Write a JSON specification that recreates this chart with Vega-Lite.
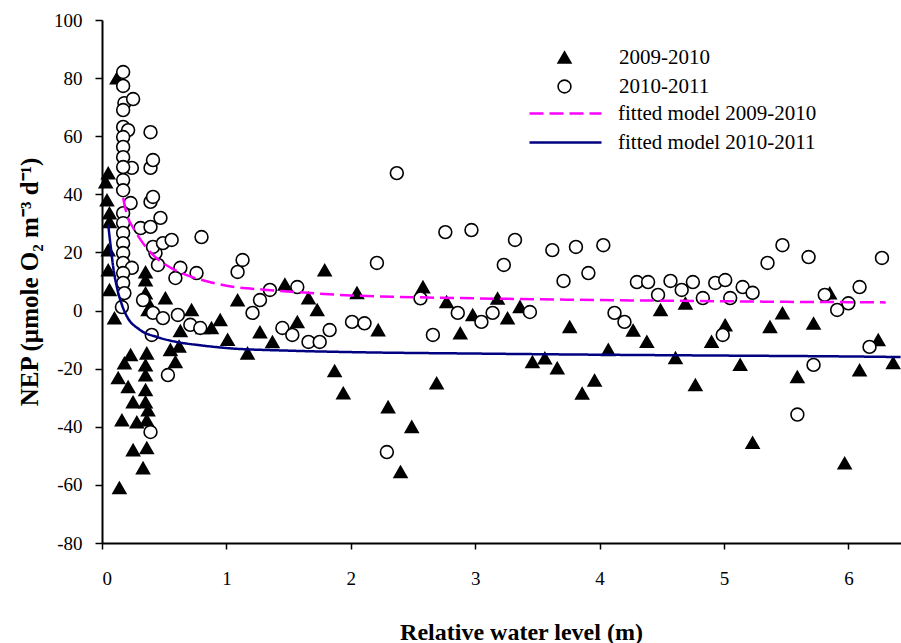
{
  "$schema": "https://vega.github.io/schema/vega-lite/v6.json",
  "autosize": "none",
  "padding": {"left": 102, "top": 20, "right": 0, "bottom": 100},
  "width": 799,
  "height": 523,
  "background": "white",
  "config": {
    "view": {"stroke": null},
    "font": "Liberation Serif",
    "style": {"guide-label": {"font": "Liberation Serif"}, "guide-title": {"font": "Liberation Serif"}},
    "axis": {"grid": false, "domainColor": "black", "domainWidth": 2, "tickColor": "black", "tickWidth": 1.5, "labelColor": "black", "labelFont": "Liberation Serif", "labelFontSize": 19, "titleFont": "Liberation Serif", "titleFontSize": 24, "titleFontWeight": "bold", "titleColor": "black"},
    "legend": {"labelFont": "Liberation Serif", "labelFontSize": 21, "labelColor": "black", "padding": 0, "labelLimit": 0}
  },
  "datasets": {
    "points": [
      {"x": 0.12, "y": 80.0, "series": "2009-2010"},
      {"x": 0.03, "y": 44.2, "series": "2009-2010"},
      {"x": 0.05, "y": 47.3, "series": "2009-2010"},
      {"x": 0.04, "y": 38.0, "series": "2009-2010"},
      {"x": 0.06, "y": 33.5, "series": "2009-2010"},
      {"x": 0.06, "y": 30.5, "series": "2009-2010"},
      {"x": 0.05, "y": 20.8, "series": "2009-2010"},
      {"x": 0.05, "y": 13.9, "series": "2009-2010"},
      {"x": 0.06, "y": 7.1, "series": "2009-2010"},
      {"x": 0.10, "y": -2.6, "series": "2009-2010"},
      {"x": 0.35, "y": 13.2, "series": "2009-2010"},
      {"x": 0.35, "y": 10.5, "series": "2009-2010"},
      {"x": 0.35, "y": 6.0, "series": "2009-2010"},
      {"x": 0.36, "y": 3.6, "series": "2009-2010"},
      {"x": 0.37, "y": 0.2, "series": "2009-2010"},
      {"x": 0.51, "y": 4.3, "series": "2009-2010"},
      {"x": 0.72, "y": 0.2, "series": "2009-2010"},
      {"x": 0.63, "y": -7.0, "series": "2009-2010"},
      {"x": 0.81, "y": -6.0, "series": "2009-2010"},
      {"x": 0.88, "y": -6.0, "series": "2009-2010"},
      {"x": 0.62, "y": -12.3, "series": "2009-2010"},
      {"x": 0.14, "y": -61.0, "series": "2009-2010"},
      {"x": 0.33, "y": -54.2, "series": "2009-2010"},
      {"x": 0.25, "y": -48.0, "series": "2009-2010"},
      {"x": 0.36, "y": -47.3, "series": "2009-2010"},
      {"x": 0.16, "y": -37.7, "series": "2009-2010"},
      {"x": 0.28, "y": -38.4, "series": "2009-2010"},
      {"x": 0.36, "y": -37.7, "series": "2009-2010"},
      {"x": 0.25, "y": -31.5, "series": "2009-2010"},
      {"x": 0.35, "y": -31.5, "series": "2009-2010"},
      {"x": 0.21, "y": -26.3, "series": "2009-2010"},
      {"x": 0.13, "y": -23.2, "series": "2009-2010"},
      {"x": 0.35, "y": -27.3, "series": "2009-2010"},
      {"x": 0.35, "y": -22.2, "series": "2009-2010"},
      {"x": 0.35, "y": -18.8, "series": "2009-2010"},
      {"x": 0.36, "y": -14.7, "series": "2009-2010"},
      {"x": 0.18, "y": -18.1, "series": "2009-2010"},
      {"x": 0.23, "y": -15.3, "series": "2009-2010"},
      {"x": 0.55, "y": -13.5, "series": "2009-2010"},
      {"x": 0.59, "y": -17.7, "series": "2009-2010"},
      {"x": 0.37, "y": -34.3, "series": "2009-2010"},
      {"x": 0.95, "y": -3.2, "series": "2009-2010"},
      {"x": 1.01, "y": -10.0, "series": "2009-2010"},
      {"x": 1.09, "y": 3.6, "series": "2009-2010"},
      {"x": 1.17, "y": -14.7, "series": "2009-2010"},
      {"x": 1.27, "y": -7.4, "series": "2009-2010"},
      {"x": 1.37, "y": -10.8, "series": "2009-2010"},
      {"x": 1.47, "y": 9.0, "series": "2009-2010"},
      {"x": 1.57, "y": -3.9, "series": "2009-2010"},
      {"x": 1.79, "y": 13.9, "series": "2009-2010"},
      {"x": 1.66, "y": 4.3, "series": "2009-2010"},
      {"x": 1.73, "y": 0.2, "series": "2009-2010"},
      {"x": 1.87, "y": -20.8, "series": "2009-2010"},
      {"x": 1.94, "y": -28.4, "series": "2009-2010"},
      {"x": 2.30, "y": -33.2, "series": "2009-2010"},
      {"x": 2.49, "y": -40.0, "series": "2009-2010"},
      {"x": 2.40, "y": -55.5, "series": "2009-2010"},
      {"x": 2.69, "y": -25.0, "series": "2009-2010"},
      {"x": 2.22, "y": -6.7, "series": "2009-2010"},
      {"x": 2.05, "y": 6.1, "series": "2009-2010"},
      {"x": 2.58, "y": 8.1, "series": "2009-2010"},
      {"x": 2.77, "y": 3.0, "series": "2009-2010"},
      {"x": 2.88, "y": -7.8, "series": "2009-2010"},
      {"x": 2.98, "y": -1.5, "series": "2009-2010"},
      {"x": 3.18, "y": 4.2, "series": "2009-2010"},
      {"x": 3.26, "y": -2.6, "series": "2009-2010"},
      {"x": 3.36, "y": 1.3, "series": "2009-2010"},
      {"x": 3.46, "y": -17.7, "series": "2009-2010"},
      {"x": 3.56, "y": -16.4, "series": "2009-2010"},
      {"x": 3.66, "y": -19.8, "series": "2009-2010"},
      {"x": 3.76, "y": -5.6, "series": "2009-2010"},
      {"x": 3.86, "y": -28.5, "series": "2009-2010"},
      {"x": 3.96, "y": -24.0, "series": "2009-2010"},
      {"x": 4.07, "y": -13.5, "series": "2009-2010"},
      {"x": 4.27, "y": -6.8, "series": "2009-2010"},
      {"x": 4.38, "y": -10.7, "series": "2009-2010"},
      {"x": 4.49, "y": 0.2, "series": "2009-2010"},
      {"x": 4.69, "y": 2.5, "series": "2009-2010"},
      {"x": 4.61, "y": -16.3, "series": "2009-2010"},
      {"x": 4.77, "y": -25.6, "series": "2009-2010"},
      {"x": 4.90, "y": -10.7, "series": "2009-2010"},
      {"x": 5.01, "y": -5.0, "series": "2009-2010"},
      {"x": 5.13, "y": -18.6, "series": "2009-2010"},
      {"x": 5.23, "y": -45.5, "series": "2009-2010"},
      {"x": 5.37, "y": -5.6, "series": "2009-2010"},
      {"x": 5.47, "y": -0.9, "series": "2009-2010"},
      {"x": 5.59, "y": -22.8, "series": "2009-2010"},
      {"x": 5.72, "y": -4.4, "series": "2009-2010"},
      {"x": 5.85, "y": 6.0, "series": "2009-2010"},
      {"x": 5.97, "y": -52.5, "series": "2009-2010"},
      {"x": 6.09, "y": -20.5, "series": "2009-2010"},
      {"x": 6.24, "y": -10.1, "series": "2009-2010"},
      {"x": 6.36, "y": -18.0, "series": "2009-2010"},
      {"x": 0.17, "y": 82.1, "series": "2010-2011"},
      {"x": 0.17, "y": 77.3, "series": "2010-2011"},
      {"x": 0.18, "y": 71.4, "series": "2010-2011"},
      {"x": 0.17, "y": 69.0, "series": "2010-2011"},
      {"x": 0.25, "y": 72.8, "series": "2010-2011"},
      {"x": 0.17, "y": 63.2, "series": "2010-2011"},
      {"x": 0.21, "y": 62.1, "series": "2010-2011"},
      {"x": 0.17, "y": 59.7, "series": "2010-2011"},
      {"x": 0.17, "y": 56.3, "series": "2010-2011"},
      {"x": 0.17, "y": 52.8, "series": "2010-2011"},
      {"x": 0.24, "y": 49.1, "series": "2010-2011"},
      {"x": 0.17, "y": 49.4, "series": "2010-2011"},
      {"x": 0.17, "y": 44.9, "series": "2010-2011"},
      {"x": 0.17, "y": 41.4, "series": "2010-2011"},
      {"x": 0.23, "y": 37.0, "series": "2010-2011"},
      {"x": 0.17, "y": 33.5, "series": "2010-2011"},
      {"x": 0.17, "y": 30.1, "series": "2010-2011"},
      {"x": 0.17, "y": 26.7, "series": "2010-2011"},
      {"x": 0.31, "y": 28.4, "series": "2010-2011"},
      {"x": 0.39, "y": 28.8, "series": "2010-2011"},
      {"x": 0.47, "y": 31.9, "series": "2010-2011"},
      {"x": 0.39, "y": 37.4, "series": "2010-2011"},
      {"x": 0.41, "y": 39.1, "series": "2010-2011"},
      {"x": 0.39, "y": 49.1, "series": "2010-2011"},
      {"x": 0.41, "y": 51.8, "series": "2010-2011"},
      {"x": 0.39, "y": 61.4, "series": "2010-2011"},
      {"x": 0.17, "y": 23.2, "series": "2010-2011"},
      {"x": 0.17, "y": 19.8, "series": "2010-2011"},
      {"x": 0.17, "y": 16.4, "series": "2010-2011"},
      {"x": 0.24, "y": 14.7, "series": "2010-2011"},
      {"x": 0.17, "y": 12.9, "series": "2010-2011"},
      {"x": 0.17, "y": 9.5, "series": "2010-2011"},
      {"x": 0.43, "y": 19.8, "series": "2010-2011"},
      {"x": 0.41, "y": 21.9, "series": "2010-2011"},
      {"x": 0.49, "y": 23.2, "series": "2010-2011"},
      {"x": 0.56, "y": 24.3, "series": "2010-2011"},
      {"x": 0.45, "y": 15.7, "series": "2010-2011"},
      {"x": 0.63, "y": 14.7, "series": "2010-2011"},
      {"x": 0.59, "y": 11.2, "series": "2010-2011"},
      {"x": 0.76, "y": 12.9, "series": "2010-2011"},
      {"x": 0.80, "y": 25.3, "series": "2010-2011"},
      {"x": 1.09, "y": 13.3, "series": "2010-2011"},
      {"x": 1.13, "y": 17.4, "series": "2010-2011"},
      {"x": 1.35, "y": 7.1, "series": "2010-2011"},
      {"x": 1.57, "y": 8.1, "series": "2010-2011"},
      {"x": 0.18, "y": 6.0, "series": "2010-2011"},
      {"x": 0.16, "y": 1.2, "series": "2010-2011"},
      {"x": 0.33, "y": 3.6, "series": "2010-2011"},
      {"x": 0.41, "y": -0.8, "series": "2010-2011"},
      {"x": 0.49, "y": -2.6, "series": "2010-2011"},
      {"x": 0.40, "y": -8.4, "series": "2010-2011"},
      {"x": 0.61, "y": -1.5, "series": "2010-2011"},
      {"x": 0.71, "y": -4.9, "series": "2010-2011"},
      {"x": 0.79, "y": -6.0, "series": "2010-2011"},
      {"x": 0.53, "y": -22.2, "series": "2010-2011"},
      {"x": 0.39, "y": -41.8, "series": "2010-2011"},
      {"x": 1.21, "y": -0.8, "series": "2010-2011"},
      {"x": 1.45, "y": -6.0, "series": "2010-2011"},
      {"x": 1.53, "y": -8.4, "series": "2010-2011"},
      {"x": 1.27, "y": 3.6, "series": "2010-2011"},
      {"x": 1.66, "y": -10.8, "series": "2010-2011"},
      {"x": 1.75, "y": -10.8, "series": "2010-2011"},
      {"x": 1.83, "y": -6.7, "series": "2010-2011"},
      {"x": 2.01, "y": -3.9, "series": "2010-2011"},
      {"x": 2.11, "y": -4.4, "series": "2010-2011"},
      {"x": 2.56, "y": 4.2, "series": "2010-2011"},
      {"x": 2.66, "y": -8.4, "series": "2010-2011"},
      {"x": 2.86, "y": -0.8, "series": "2010-2011"},
      {"x": 3.05, "y": -3.9, "series": "2010-2011"},
      {"x": 3.14, "y": -0.8, "series": "2010-2011"},
      {"x": 3.44, "y": -0.5, "series": "2010-2011"},
      {"x": 2.29, "y": -48.7, "series": "2010-2011"},
      {"x": 3.71, "y": 10.2, "series": "2010-2011"},
      {"x": 2.37, "y": 47.3, "series": "2010-2011"},
      {"x": 2.76, "y": 27.0, "series": "2010-2011"},
      {"x": 2.97, "y": 27.7, "series": "2010-2011"},
      {"x": 3.32, "y": 24.3, "series": "2010-2011"},
      {"x": 3.23, "y": 15.7, "series": "2010-2011"},
      {"x": 3.62, "y": 20.8, "series": "2010-2011"},
      {"x": 3.81, "y": 21.9, "series": "2010-2011"},
      {"x": 3.91, "y": 12.9, "series": "2010-2011"},
      {"x": 2.21, "y": 16.4, "series": "2010-2011"},
      {"x": 4.03, "y": 22.5, "series": "2010-2011"},
      {"x": 4.30, "y": 9.8, "series": "2010-2011"},
      {"x": 4.39, "y": 9.8, "series": "2010-2011"},
      {"x": 4.57, "y": 10.2, "series": "2010-2011"},
      {"x": 4.75, "y": 9.8, "series": "2010-2011"},
      {"x": 4.93, "y": 9.5, "series": "2010-2011"},
      {"x": 5.01, "y": 10.5, "series": "2010-2011"},
      {"x": 5.15, "y": 8.1, "series": "2010-2011"},
      {"x": 5.23, "y": 6.1, "series": "2010-2011"},
      {"x": 4.47, "y": 5.4, "series": "2010-2011"},
      {"x": 4.66, "y": 7.1, "series": "2010-2011"},
      {"x": 4.83, "y": 4.3, "series": "2010-2011"},
      {"x": 5.05, "y": 4.3, "series": "2010-2011"},
      {"x": 4.12, "y": -0.8, "series": "2010-2011"},
      {"x": 4.20, "y": -3.9, "series": "2010-2011"},
      {"x": 4.99, "y": -8.4, "series": "2010-2011"},
      {"x": 5.81, "y": 5.4, "series": "2010-2011"},
      {"x": 5.91, "y": 0.2, "series": "2010-2011"},
      {"x": 6.00, "y": 2.5, "series": "2010-2011"},
      {"x": 6.09, "y": 8.1, "series": "2010-2011"},
      {"x": 6.17, "y": -12.5, "series": "2010-2011"},
      {"x": 5.72, "y": -18.7, "series": "2010-2011"},
      {"x": 5.59, "y": -35.8, "series": "2010-2011"},
      {"x": 5.35, "y": 16.4, "series": "2010-2011"},
      {"x": 5.47, "y": 22.5, "series": "2010-2011"},
      {"x": 5.68, "y": 18.4, "series": "2010-2011"},
      {"x": 6.27, "y": 18.1, "series": "2010-2011"}
    ],
    "curves": [
      {"x": 0.17, "y": 38.7, "model": "fitted model 2009-2010"},
      {"x": 0.2, "y": 33.0, "model": "fitted model 2009-2010"},
      {"x": 0.25, "y": 28.5, "model": "fitted model 2009-2010"},
      {"x": 0.3, "y": 25.0, "model": "fitted model 2009-2010"},
      {"x": 0.35, "y": 22.0, "model": "fitted model 2009-2010"},
      {"x": 0.44, "y": 18.0, "model": "fitted model 2009-2010"},
      {"x": 0.55, "y": 14.8, "model": "fitted model 2009-2010"},
      {"x": 0.68, "y": 12.2, "model": "fitted model 2009-2010"},
      {"x": 0.85, "y": 10.0, "model": "fitted model 2009-2010"},
      {"x": 1.05, "y": 8.2, "model": "fitted model 2009-2010"},
      {"x": 1.3, "y": 7.2, "model": "fitted model 2009-2010"},
      {"x": 1.55, "y": 6.4, "model": "fitted model 2009-2010"},
      {"x": 2.0, "y": 5.2, "model": "fitted model 2009-2010"},
      {"x": 2.5, "y": 4.6, "model": "fitted model 2009-2010"},
      {"x": 3.0, "y": 4.2, "model": "fitted model 2009-2010"},
      {"x": 3.5, "y": 3.9, "model": "fitted model 2009-2010"},
      {"x": 4.0, "y": 3.6, "model": "fitted model 2009-2010"},
      {"x": 4.5, "y": 3.4, "model": "fitted model 2009-2010"},
      {"x": 5.0, "y": 3.2, "model": "fitted model 2009-2010"},
      {"x": 5.5, "y": 3.0, "model": "fitted model 2009-2010"},
      {"x": 6.0, "y": 2.9, "model": "fitted model 2009-2010"},
      {"x": 6.3, "y": 2.8, "model": "fitted model 2009-2010"},
      {"x": 0.05, "y": 29.5, "model": "fitted model 2010-2011"},
      {"x": 0.07, "y": 22.0, "model": "fitted model 2010-2011"},
      {"x": 0.09, "y": 15.0, "model": "fitted model 2010-2011"},
      {"x": 0.12, "y": 8.0, "model": "fitted model 2010-2011"},
      {"x": 0.16, "y": 2.0, "model": "fitted model 2010-2011"},
      {"x": 0.2, "y": -2.0, "model": "fitted model 2010-2011"},
      {"x": 0.3, "y": -6.5, "model": "fitted model 2010-2011"},
      {"x": 0.45, "y": -9.2, "model": "fitted model 2010-2011"},
      {"x": 0.6, "y": -10.8, "model": "fitted model 2010-2011"},
      {"x": 0.8, "y": -12.0, "model": "fitted model 2010-2011"},
      {"x": 1.0, "y": -12.9, "model": "fitted model 2010-2011"},
      {"x": 1.5, "y": -13.8, "model": "fitted model 2010-2011"},
      {"x": 2.0, "y": -14.3, "model": "fitted model 2010-2011"},
      {"x": 3.0, "y": -14.8, "model": "fitted model 2010-2011"},
      {"x": 4.0, "y": -15.2, "model": "fitted model 2010-2011"},
      {"x": 5.0, "y": -15.5, "model": "fitted model 2010-2011"},
      {"x": 6.0, "y": -15.8, "model": "fitted model 2010-2011"},
      {"x": 6.42, "y": -16.0, "model": "fitted model 2010-2011"}
    ]
  },
  "encoding": {
    "x": {"field": "x", "type": "quantitative", "scale": {"domain": [0, 6.423], "nice": false, "zero": false},
      "axis": {"values": [0, 1, 2, 3, 4, 5, 6], "labelExpr": "datum.value + ''", "tickSize": 6, "labelPadding": 20, "title": "Relative water level (m)", "titlePadding": 32, "titleX": 419, "titleAnchor": "middle"}},
    "y": {"field": "y", "type": "quantitative", "scale": {"domain": [-80, 100], "nice": false, "zero": false},
      "axis": {"values": [-80, -60, -40, -20, 0, 20, 40, 60, 80, 100], "labelExpr": "datum.value + ''", "tickSize": 7, "labelPadding": 13, "title": "NEP (µmole O₂ m⁻³ d⁻¹)", "titleFontSize": 25, "titlePadding": 11}}
  },
  "layer": [
    {
      "mark": {"type": "rule", "color": "#444", "strokeDash": [1, 2], "strokeWidth": 1},
      "encoding": {"y": {"datum": 0}, "x": null}
    },
    {
      "mark": {"type": "rule", "color": "black", "strokeWidth": 2},
      "encoding": {"y": {"datum": 100}, "x": null}
    },
    {
      "data": {"name": "points"},
      "mark": {"type": "point", "stroke": "black", "strokeWidth": 1.6, "opacity": 1, "size": 165},
      "encoding": {
        "shape": {"field": "series", "type": "nominal", "scale": {"domain": ["2009-2010", "2010-2011"], "range": ["triangle-up", "circle"]},
          "legend": {"orient": "none", "legendX": 452, "legendY": 27, "title": null, "symbolSize": 165, "symbolStrokeColor": "black", "symbolStrokeWidth": 1.6, "symbolOpacity": 1, "labelOffset": 44, "rowPadding": 7, "labelLimit": 0,
            "encode": {"symbols": {"update": {"stroke": {"value": "black"}, "strokeWidth": {"value": 1.6}, "size": {"value": 165}, "opacity": {"value": 1}}}}}},
        "fill": {"field": "series", "type": "nominal", "scale": {"domain": ["2009-2010", "2010-2011"], "range": ["black", "white"]},
          "legend": {"orient": "none", "legendX": 452, "legendY": 27, "title": null, "symbolSize": 165, "symbolStrokeColor": "black", "symbolStrokeWidth": 1.6, "symbolOpacity": 1, "labelOffset": 44, "rowPadding": 7, "labelLimit": 0,
            "encode": {"symbols": {"update": {"stroke": {"value": "black"}, "strokeWidth": {"value": 1.6}, "size": {"value": 165}, "opacity": {"value": 1}}}}}}
      }
    },
    {
      "data": {"name": "curves"},
      "mark": {"type": "line", "strokeWidth": 2.5, "interpolate": "monotone"},
      "encoding": {
        "color": {"field": "model", "type": "nominal", "scale": {"domain": ["fitted model 2009-2010", "fitted model 2010-2011"], "range": ["#ff00ff", "#000080"]},
          "legend": {"orient": "none", "legendX": 453, "legendY": 83, "title": null, "symbolType": "M-4,0H4", "symbolSize": 324, "symbolStrokeWidth": 2.5, "labelOffset": 42, "rowPadding": 7, "labelLimit": 0}},
        "strokeDash": {"field": "model", "type": "nominal", "scale": {"domain": ["fitted model 2009-2010", "fitted model 2010-2011"], "range": [[14, 6], [1, 0]]},
          "legend": {"orient": "none", "legendX": 453, "legendY": 83, "title": null, "symbolType": "M-4,0H4", "symbolSize": 324, "symbolStrokeWidth": 2.5, "labelOffset": 42, "rowPadding": 7, "labelLimit": 0}}
      }
    }
  ]
}
